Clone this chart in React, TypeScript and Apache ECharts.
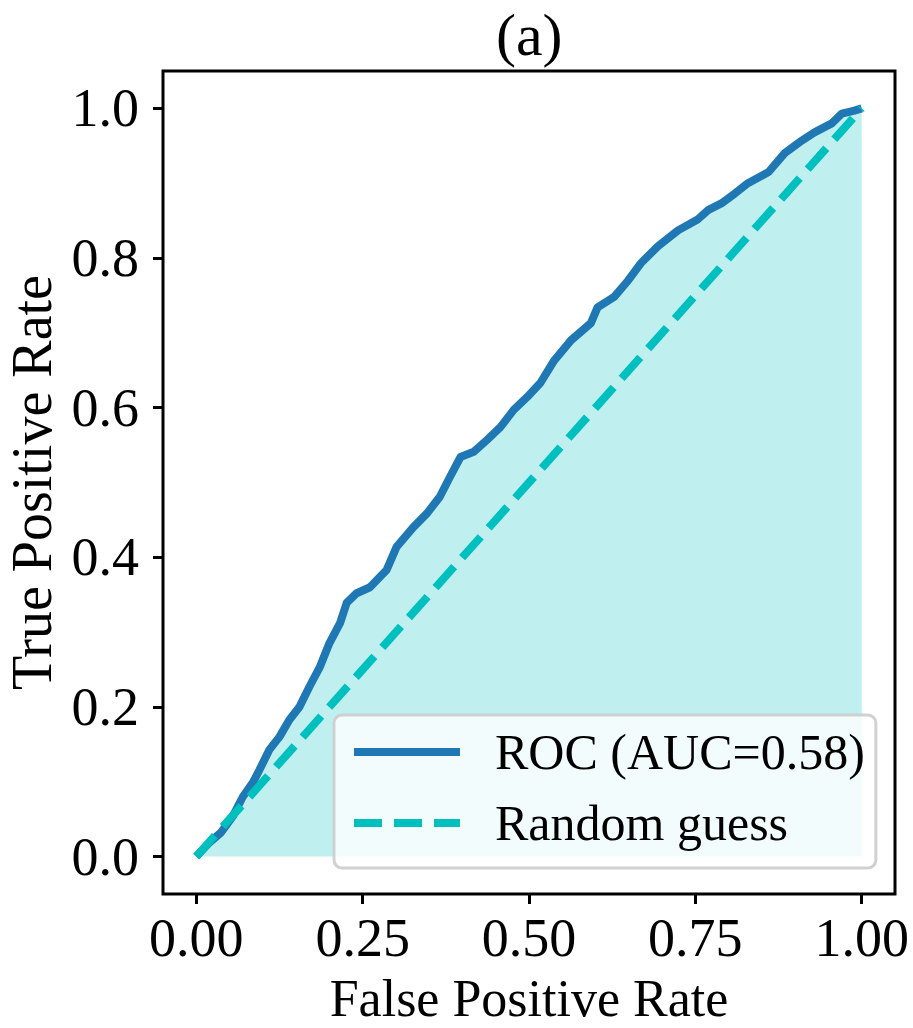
import React, { useEffect, useRef } from "react";
import * as echarts from "echarts";

const TITLE = "(a)";
const X_NAME = "False Positive Rate";
const Y_NAME = "True Positive Rate";
const ROC_NAME = "ROC (AUC=0.58)";
const RAND_NAME = "Random guess";

const X_TICKS = [0, 0.25, 0.5, 0.75, 1.0];
const Y_TICKS = [0, 0.2, 0.4, 0.6, 0.8, 1.0];

const FPR = [
  0, 0.02, 0.037, 0.055, 0.07, 0.085, 0.095, 0.11, 0.125, 0.14, 0.155, 0.17,
  0.186, 0.2, 0.216, 0.226, 0.241, 0.261, 0.286, 0.301, 0.326, 0.347, 0.366,
  0.381, 0.397, 0.417, 0.437, 0.457, 0.477, 0.497, 0.517, 0.537, 0.563, 0.593,
  0.603, 0.628, 0.649, 0.668, 0.694, 0.724, 0.754, 0.769, 0.789, 0.809, 0.829,
  0.86, 0.884, 0.91, 0.929, 0.955, 0.97, 0.989, 1.0,
];
const TPR = [
  0, 0.019, 0.032, 0.054, 0.08, 0.099, 0.116, 0.143, 0.16, 0.183, 0.2, 0.227,
  0.254, 0.285, 0.312, 0.339, 0.352, 0.36, 0.383, 0.414, 0.44, 0.459, 0.481,
  0.507, 0.534, 0.541, 0.557, 0.574, 0.597, 0.614, 0.633, 0.662, 0.69, 0.713,
  0.734, 0.748, 0.77, 0.793, 0.816, 0.837, 0.852, 0.864, 0.873, 0.886, 0.9,
  0.915, 0.94, 0.957, 0.968, 0.98, 0.993, 0.997, 1.0,
];
const DIAG_X = [0, 1];
const DIAG_Y = [0, 1];

export default function App() {
  const ref = useRef<HTMLDivElement>(null);

  useEffect(() => {
    const chart = echarts.init(ref.current as HTMLDivElement, null, {
      renderer: "svg",
    });
    const font = "'Liberation Serif', 'Times New Roman', serif";
    chart.setOption({
      animation: false,
      backgroundColor: "#ffffff",
      title: {
        text: TITLE,
        left: 496,
        top: 6,
        padding: 0,
        textStyle: {
          fontFamily: font,
          fontSize: 60,
          lineHeight: 58,
          fontWeight: "normal",
          color: "#000",
        },
      },
      grid: {
        left: 163,
        top: 71,
        right: 18,
        bottom: 134,
        outerBoundsMode: "none",
        containLabel: false,
        show: true,
        borderColor: "#000",
        borderWidth: 3,
        backgroundColor: "transparent",
      },
      xAxis: {
        type: "value",
        min: -0.05,
        max: 1.05,
        name: X_NAME,
        nameLocation: "middle",
        nameGap: 82,
        nameMoveOverlap: false,
        nameTextStyle: {
          fontFamily: font,
          fontSize: 52,
          lineHeight: 44,
          color: "#000",
        },
        axisLine: { show: false, onZero: false },
        splitLine: { show: false },
        axisTick: {
          show: true,
          customValues: X_TICKS,
          length: 10,
          lineStyle: { color: "#000", width: 3 },
        },
        axisLabel: {
          customValues: X_TICKS,
          formatter: (v: number) => v.toFixed(2),
          fontFamily: font,
          fontSize: 54,
          color: "#000",
          margin: 17,
        },
      },
      yAxis: {
        type: "value",
        min: -0.05,
        max: 1.05,
        name: Y_NAME,
        nameLocation: "middle",
        nameGap: 108,
        nameMoveOverlap: false,
        nameTextStyle: {
          fontFamily: font,
          fontSize: 56,
          lineHeight: 46,
          color: "#000",
        },
        axisLine: { show: false, onZero: false },
        splitLine: { show: false },
        axisTick: {
          show: true,
          customValues: Y_TICKS,
          length: 10,
          lineStyle: { color: "#000", width: 3 },
        },
        axisLabel: {
          customValues: Y_TICKS,
          formatter: (v: number) => v.toFixed(1),
          fontFamily: font,
          fontSize: 54,
          color: "#000",
          margin: 24,
        },
      },
      legend: {
        orient: "vertical",
        left: 334,
        top: 715,
        data: [ROC_NAME, RAND_NAME],
        itemWidth: 106,
        itemHeight: 14,
        itemGap: 21,
        padding: [12, 11, 20, 16],
        backgroundColor: "rgba(255,255,255,0.8)",
        borderColor: "rgba(204,204,204,0.9)",
        borderWidth: 3,
        borderRadius: 8,
        selectedMode: false,
        itemStyle: { opacity: 0, borderWidth: 0 },
        lineStyle: { width: 8 },
        textStyle: {
          fontFamily: font,
          fontSize: 50,
          color: "#000",
          padding: [0, 0, 0, 30],
        },
      },
      series: [
        {
          name: ROC_NAME,
          type: "line",
          data: FPR.map((x, i) => [x, TPR[i]]),
          symbol: "none",
          showSymbol: false,
          z: 2,
          lineStyle: { color: "#1f77b4", width: 8, join: "round" },
          itemStyle: { color: "#1f77b4" },
          areaStyle: { color: "#00bfbf", opacity: 0.25, origin: 0 },
        },
        {
          name: RAND_NAME,
          type: "line",
          data: DIAG_X.map((x, i) => [x, DIAG_Y[i]]),
          symbol: "none",
          showSymbol: false,
          z: 3,
          lineStyle: { color: "#00bfbf", width: 8, type: [28, 12] },
          itemStyle: { color: "#00bfbf" },
        },
      ],
    });
    return () => chart.dispose();
  }, []);

  return (
    <div
      ref={ref}
      style={{
        position: "fixed",
        left: 0,
        top: 0,
        width: 913,
        height: 1028,
        background: "#fff",
      }}
    />
  );
}
